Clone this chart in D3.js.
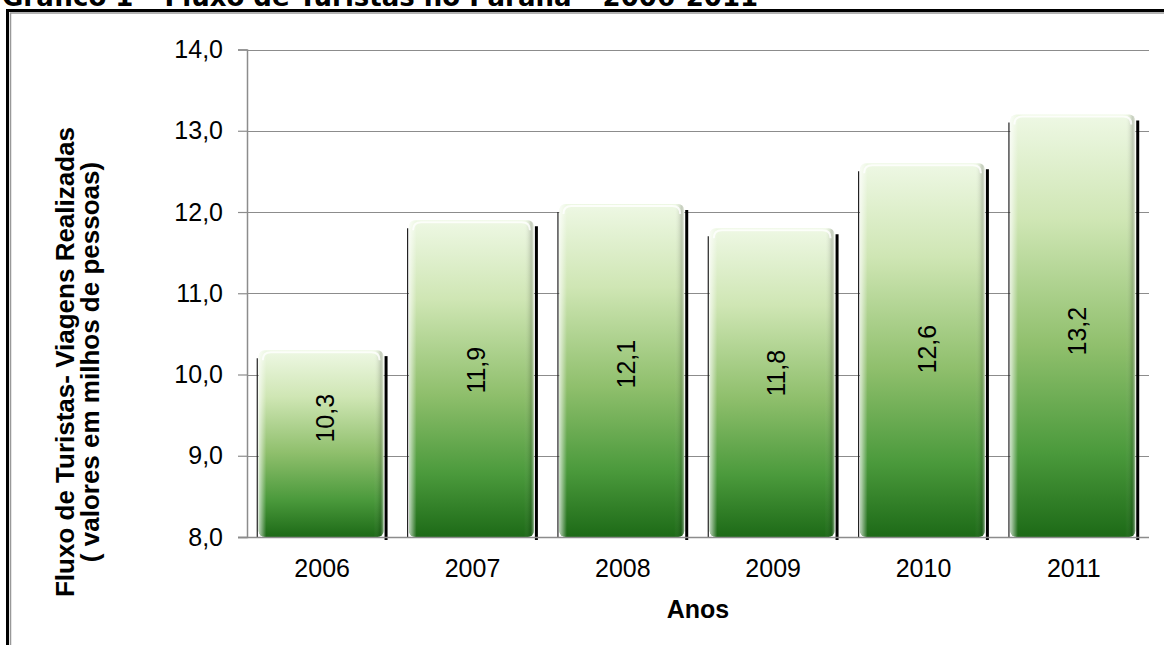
<!DOCTYPE html>
<html>
<head>
<meta charset="utf-8">
<script src="https://cdn.jsdelivr.net/npm/d3@7"></script>
<style>
  html, body { margin: 0; padding: 0; background: #fff; overflow: hidden; }
  svg { display: block; }
</style>
</head>
<body>
<svg></svg>
<script>
// data
const years = ['2006', '2007', '2008', '2009', '2010', '2011']
const values = [10.3, 11.9, 12.1, 11.8, 12.6, 13.2]
const yTicks = [8, 9, 10, 11, 12, 13, 14]
const titleText = 'Gráfico 1 – Fluxo de Turistas no Paraná – 2006-2011'
const yTitle = ['Fluxo de Turistas- Viagens Realizadas', '( valores em milhos de pessoas)']
const xTitle = 'Anos'

const width = 1164
const height = 645
const svg = d3.select('svg').attr('width', width).attr('height', height)

const ptBR = d3.formatLocale({decimal: ',', thousands: '.', grouping: [3], currency: ['R$', '']})
const fmt = ptBR.format('.1f')
const sans = '"Liberation Sans", Arial, sans-serif'

const plotLeft = 247, plotRight = 1149, plotTop = 49.5, plotBottom = 537

const xScale = d3.scaleBand().domain(years).range([plotLeft, plotRight]).paddingInner(0.13).paddingOuter(0.065)
const yScale = d3.scaleLinear().domain([8, 14]).range([plotBottom, plotTop])

// gradients
const defs = svg.append('defs')
const g1 = defs.append('linearGradient').attr('id', 'barFill').attr('x1', 0).attr('y1', 0).attr('x2', 0).attr('y2', 1)
g1.append('stop').attr('offset', '0%').attr('stop-color', '#eef8e4')
g1.append('stop').attr('offset', '25%').attr('stop-color', '#cfe6b4')
g1.append('stop').attr('offset', '55%').attr('stop-color', '#8fbf6c')
g1.append('stop').attr('offset', '80%').attr('stop-color', '#4b9a3c')
g1.append('stop').attr('offset', '100%').attr('stop-color', '#1d6a17')
const g2 = defs.append('linearGradient').attr('id', 'barRim').attr('x1', 0).attr('y1', 0).attr('x2', 1).attr('y2', 0)
g2.append('stop').attr('offset', '0%').attr('stop-color', '#fff').attr('stop-opacity', 0.7)
g2.append('stop').attr('offset', '6%').attr('stop-color', '#fff').attr('stop-opacity', 0)
g2.append('stop').attr('offset', '92%').attr('stop-color', '#fff').attr('stop-opacity', 0)
g2.append('stop').attr('offset', '97%').attr('stop-color', '#000').attr('stop-opacity', 0.12)
g2.append('stop').attr('offset', '100%').attr('stop-color', '#fff').attr('stop-opacity', 0.5)

// frame
svg.append('rect').attr('x', 7.5).attr('y', 10.5).attr('width', width).attr('height', height)
  .attr('fill', 'none').attr('stroke', '#000').attr('stroke-width', 3)
svg.append('rect').attr('x', 10.5).attr('y', 13).attr('width', width).attr('height', height)
  .attr('fill', 'none').attr('stroke', '#999').attr('stroke-width', 1.5)

// title (cut at the top edge, as in the source)
svg.append('text').attr('x', 2).attr('y', 6)
  .attr('font-family', '"DejaVu Sans", Verdana, sans-serif').attr('font-weight', 'bold').attr('font-size', 26)
  .attr('fill', '#000').text(titleText)

// gridlines
svg.append('g').selectAll('line').data(yTicks.slice(1)).enter().append('line')
  .attr('x1', plotLeft).attr('x2', plotRight)
  .attr('y1', d => Math.round(yScale(d)) + 0.5).attr('y2', d => Math.round(yScale(d)) + 0.5)
  .attr('stroke', '#8c8c8c').attr('stroke-width', 1.2)

// bars
const bars = svg.append('g').selectAll('g').data(values).enter().append('g')
const bw = xScale.bandwidth()
bars.append('rect')
  .attr('x', (d, i) => xScale(years[i]) + 2)
  .attr('y', d => yScale(d))
  .attr('width', bw - 6)
  .attr('height', d => plotBottom - yScale(d))
  .attr('rx', 6).attr('ry', 6)
  .attr('fill', 'url(#barFill)')
bars.append('rect')
  .attr('x', (d, i) => xScale(years[i]) + 2)
  .attr('y', d => yScale(d))
  .attr('width', bw - 6)
  .attr('height', d => plotBottom - yScale(d))
  .attr('rx', 6).attr('ry', 6)
  .attr('fill', 'url(#barRim)')
bars.append('path')
  .attr('d', (d, i) => {
    const x0 = xScale(years[i]) + 6, x1 = xScale(years[i]) + bw - 8, y0 = yScale(d) + 2
    return `M${x0},${y0 + 8} Q${x0},${y0} ${x0 + 8},${y0} L${x1 - 8},${y0} Q${x1},${y0} ${x1},${y0 + 8}`
  })
  .attr('fill', 'none').attr('stroke', '#fff').attr('stroke-opacity', 0.8).attr('stroke-width', 2)
// dark side lines
bars.append('line')
  .attr('x1', (d, i) => xScale(years[i]) + 0.5).attr('x2', (d, i) => xScale(years[i]) + 0.5)
  .attr('y1', d => yScale(d) + 8).attr('y2', plotBottom)
  .attr('stroke', '#222').attr('stroke-width', 1.2)
bars.append('line')
  .attr('x1', (d, i) => xScale(years[i]) + bw - 1.5).attr('x2', (d, i) => xScale(years[i]) + bw - 1.5)
  .attr('y1', d => yScale(d) + 6).attr('y2', plotBottom + 3)
  .attr('stroke', '#000').attr('stroke-width', 3)

// value labels, rotated
bars.append('text')
  .attr('transform', (d, i) => {
    const cx = xScale(years[i]) + bw / 2 + 3
    const cy = yScale(5.65 + 0.37 * d)
    return `translate(${cx},${cy}) rotate(-90)`
  })
  .attr('text-anchor', 'middle').attr('dy', '0.36em')
  .attr('font-family', sans).attr('font-size', 25)
  .attr('fill', '#000')
  .text(d => fmt(d))

// axes
const yAxis = d3.axisLeft(yScale).tickValues(yTicks).tickFormat(fmt).tickSize(9).tickPadding(15)
const gy = svg.append('g').attr('transform', `translate(${plotLeft},0)`).call(yAxis)
gy.select('.domain').attr('stroke', '#8c8c8c').attr('stroke-width', 1.5)
gy.selectAll('.tick line').attr('stroke', '#8c8c8c').attr('stroke-width', 1.2)
gy.selectAll('.tick text').attr('font-family', sans).attr('font-size', 25).attr('fill', '#000')

const xAxis = d3.axisBottom(xScale).tickSize(0).tickPadding(22)
const gx = svg.append('g').attr('transform', `translate(0,${plotBottom})`).call(xAxis)
gx.select('.domain').attr('d', `M${plotLeft - 9},0.5H${plotRight}`).attr('stroke', '#8c8c8c').attr('stroke-width', 1.5)
gx.selectAll('.tick text').attr('font-family', sans).attr('font-size', 25).attr('fill', '#000')

// axis titles
svg.append('text').attr('x', (plotLeft + plotRight) / 2).attr('y', 618)
  .attr('text-anchor', 'middle').attr('font-family', sans)
  .attr('font-weight', 'bold').attr('font-size', 25).attr('fill', '#000').text(xTitle)

const yt = svg.append('text').attr('transform', 'translate(74,362) rotate(-90)')
  .attr('text-anchor', 'middle').attr('font-family', sans)
  .attr('font-weight', 'bold').attr('font-size', 26).attr('fill', '#000')
yt.selectAll('tspan').data(yTitle).enter().append('tspan')
  .attr('x', 0).attr('dy', (d, i) => i === 0 ? 0 : 25).text(d => d)
</script>
</body>
</html>
